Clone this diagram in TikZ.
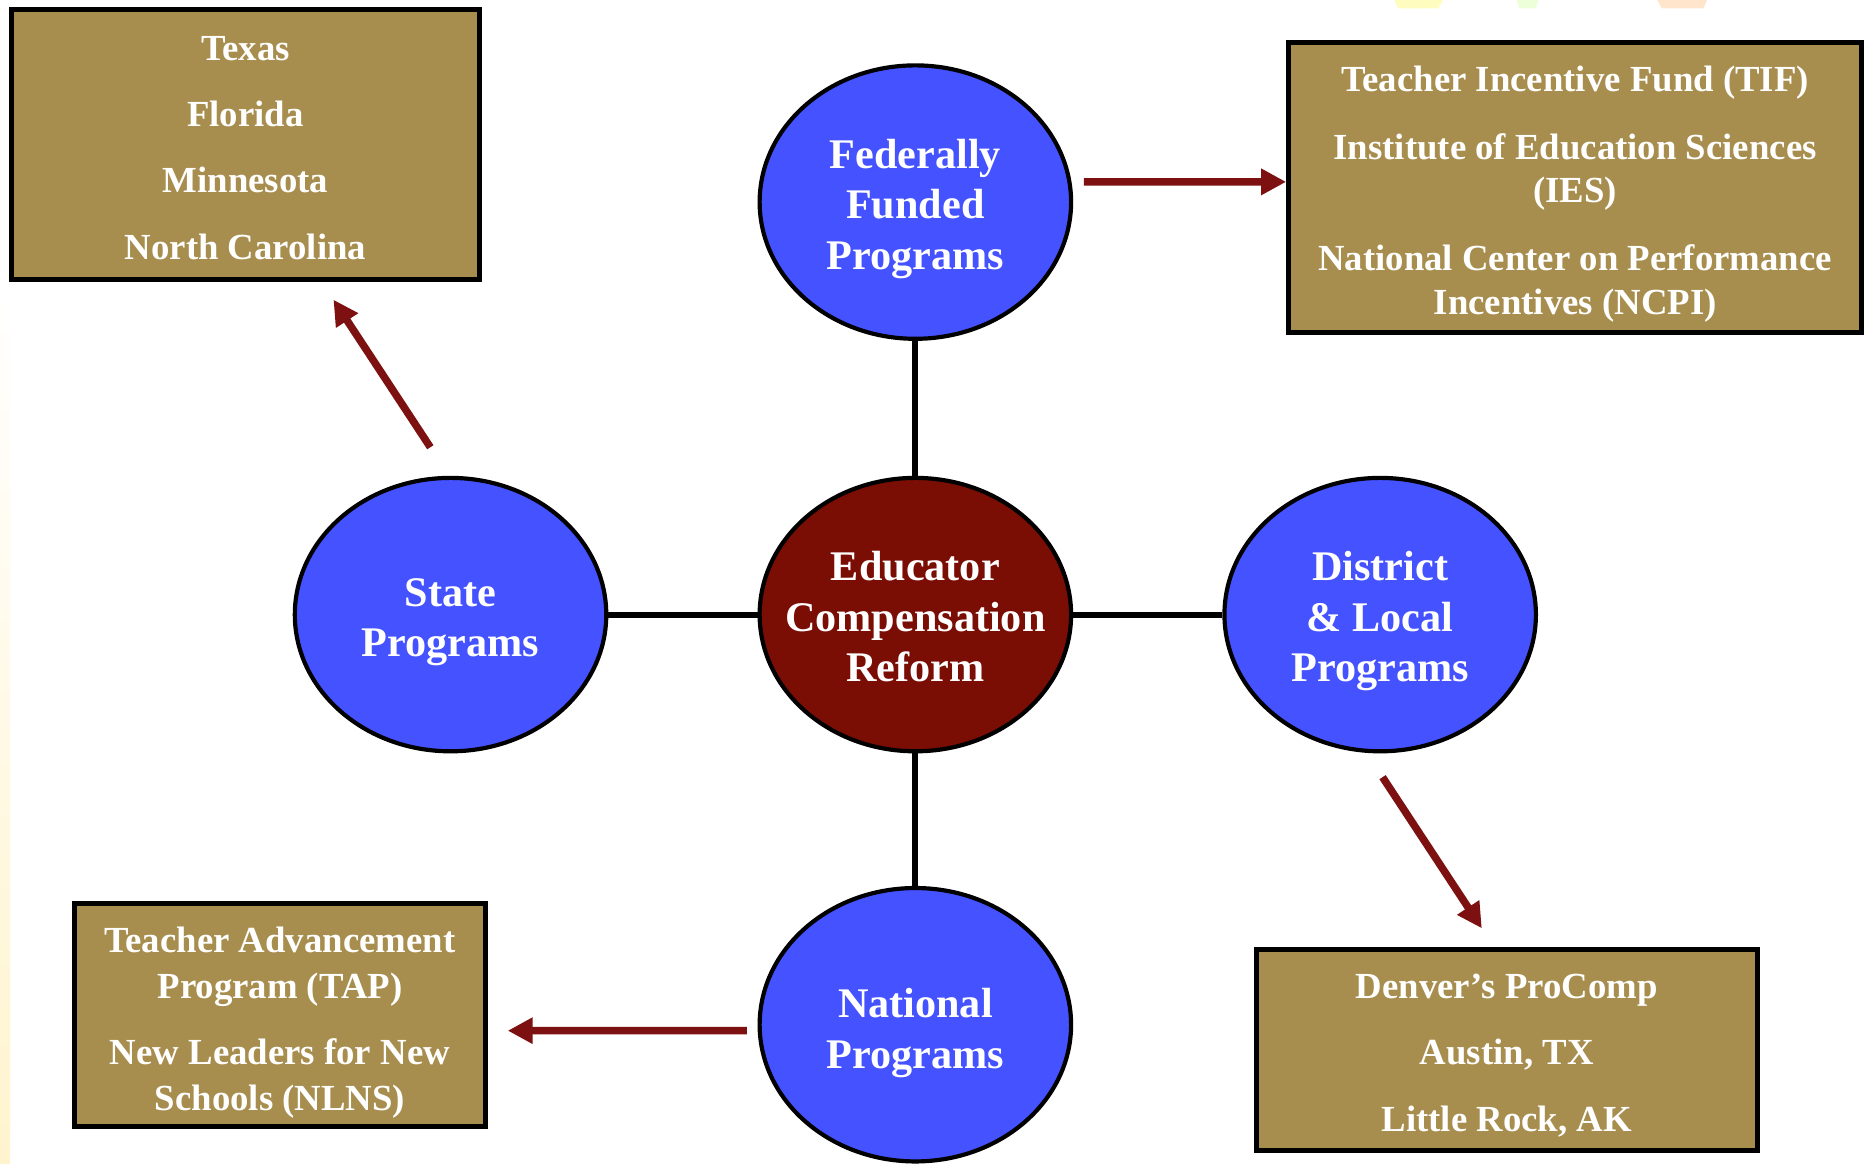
\documentclass[tikz,border=0pt]{standalone}
\usepackage{fontspec}
\setmainfont{Liberation Serif}
\usepackage{tikz}
\usetikzlibrary{
    arrows.meta,
    calc,
    shapes.geometric
}

\definecolor{progblue}{RGB}{68,82,255}
\definecolor{reformred}{RGB}{122,14,4}
\definecolor{listgold}{RGB}{168,142,78}
\definecolor{arrowred}{RGB}{125,16,16}
\definecolor{cream}{RGB}{255,244,206}

% invisible strut on a first line, to set the text a bit lower
\newcommand{\lift}[1]{\rule{0pt}{#1}}

\tikzset{
    prog/.style={ellipse, draw=black, line width=1pt, fill=progblue,
        minimum width=2.62cm, minimum height=2.30cm, inner sep=0pt,
        text=white, align=center, font=\bfseries\fontsize{10.1}{12.1}\selectfont},
    core/.style={prog, fill=reformred, inner xsep=-0.2cm},
    listbox/.style={rectangle, draw=black, line width=1.2pt, fill=listgold,
        inner sep=0pt, text=white, align=center,
        font=\bfseries\fontsize{8.8}{10.5}\selectfont},
    link/.style={line width=1.4pt, black},
    pointer/.style={line width=1.8pt, arrowred,
        -{Triangle[length=0.21cm, width=0.21cm]}}
}

\begin{document}
\begin{tikzpicture}

\useasboundingbox (0,0) rectangle (15.68,-9.79);

% Backdrop
\shade[top color=white, bottom color=cream] (0,-2.45) rectangle (0.085,-9.79);
\fill[yellow!25] (11.73,0) -- (12.14,0) -- (12.10,-0.07) -- (11.76,-0.07) -- cycle;
\fill[green!50!yellow!15] (12.76,0) -- (12.94,0) -- (12.92,-0.07) -- (12.78,-0.07) -- cycle;
\fill[orange!20] (13.94,0) -- (14.36,0) -- (14.33,-0.07) -- (13.98,-0.07) -- cycle;

% Program circles
\node[core] (reform) at (7.70,-5.17) {\lift{8pt}Educator\\Compensation\\Reform};
\node[prog] (fed) at (7.70,-1.70) {\lift{10.25pt}Federally\\Funded\\Programs};
\node[prog] (state) at (3.79,-5.17) {\lift{10.25pt}State\\Programs};
\node[prog] (district) at (11.61,-5.17) {\lift{10.25pt}District\\\& Local\\Programs};
\node[prog] (national) at (7.70,-8.62) {\lift{11.1pt}National\\Programs};

% Lists
\node[listbox, minimum width=3.93cm, minimum height=2.27cm] (statelist) at (2.065,-1.215)
    {\lift{7.4pt}Texas\\[5.4pt]Florida\\[5.4pt]Minnesota\\[5.4pt]North Carolina};
\node[listbox, minimum width=4.82cm, minimum height=2.44cm] (fedlist) at (13.25,-1.58)
    {\lift{9.1pt}Teacher Incentive Fund (TIF)\\[5.6pt]Institute of Education Sciences\\(IES)\\[5.6pt]National Center on Performance\\Incentives (NCPI)};
\node[listbox, minimum width=3.45cm, minimum height=1.88cm] (natlist) at (2.355,-8.54)
    {\lift{9.7pt}Teacher Advancement\\[0.6pt]Program (TAP)\\[5.2pt]New Leaders for New\\[0.6pt]Schools (NLNS)};
\node[listbox, minimum width=4.21cm, minimum height=1.69cm] (distlist) at (12.675,-8.835)
    {\lift{8.3pt}Denver's ProComp\\[5.4pt]Austin, TX\\[5.4pt]Little Rock, AK};

% Spokes
\draw[link] (fed) -- (reform);
\draw[link] (state) -- (reform);
\draw[link] (district) -- (reform);
\draw[link] (national) -- (reform);

% Arrows to lists
\draw[pointer] ($(state.north)+(-0.17,0.24)$) -- ($(statelist.south)+(0.74,-0.15)$);
\draw[pointer] ($(fed.east)+(0.09,0.17)$) -- ($(fedlist.west)+(0,0.05)$);
\draw[pointer] ($(district.south)+(0.02,-0.20)$) -- ($(distlist.north)+(-0.21,0.16)$);
\draw[pointer] ($(national.west)+(-0.09,-0.05)$) -- ($(natlist.east)+(0.17,-0.13)$);

\end{tikzpicture}
\end{document}
